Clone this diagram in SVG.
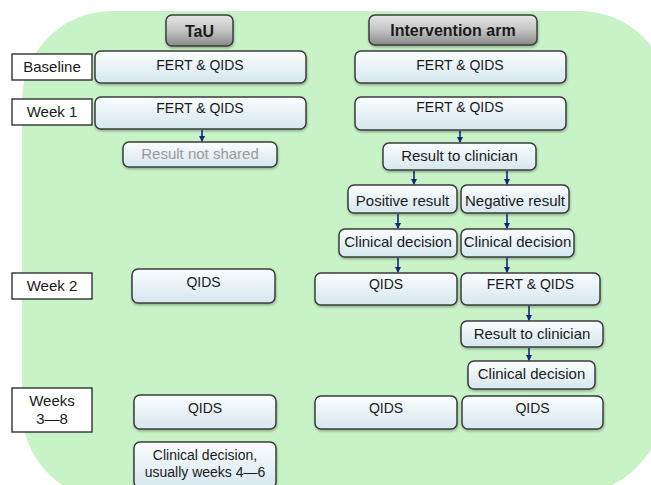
<svg xmlns="http://www.w3.org/2000/svg" width="651" height="485" viewBox="0 0 651 485">
<style>
.box{fill:url(#bg);stroke:#3c3c3c;stroke-width:1.5;filter:url(#sh)}
.hdr{fill:url(#hg);stroke:#3c3c3c;stroke-width:1.5;filter:url(#sh)}
.lbl{fill:#ffffff;stroke:#222;stroke-width:1.3}
text{font-family:"Liberation Sans",Arial,sans-serif;fill:#1a1a1a;text-anchor:middle}
.t14{font-size:14px}
.t15{font-size:15px}
.h{font-size:16px;font-weight:bold}
.g{fill:#9a9a9a}
.arr{stroke:#1a237e;stroke-width:1.6;fill:none;marker-end:url(#ah)}
</style>
<defs>
<linearGradient id="bg" x1="0" y1="0" x2="0" y2="1">
<stop offset="0" stop-color="#fbfdfe"/>
<stop offset="1" stop-color="#d5e7ee"/>
</linearGradient>
<linearGradient id="hg" x1="0" y1="0" x2="0" y2="1">
<stop offset="0" stop-color="#e6e6e6"/>
<stop offset="0.5" stop-color="#c4c4c4"/>
<stop offset="1" stop-color="#888888"/>
</linearGradient>
<filter id="sh" x="-10%" y="-20%" width="120%" height="150%">
<feDropShadow dx="0.5" dy="1.5" stdDeviation="1" flood-color="#000" flood-opacity="0.3"/>
</filter>
<marker id="ah" markerWidth="6" markerHeight="6" refX="5" refY="3" orient="auto" markerUnits="userSpaceOnUse">
<path d="M0,0 L6,3 L0,6 Z" fill="#1a237e"/>
</marker>
</defs>
<path d="M112 11 H580 A90 90 0 0 1 670 101 V382 A90 110 0 0 1 580 492 L112 500 A90 90 0 0 1 22 410 V101 A90 90 0 0 1 112 11 Z" fill="#c7f3c7"/>

<g id="hdr-tau"><rect class="hdr" x="166" y="15" width="67" height="31" rx="6"/><text class="h" x="199.5" y="37">TaU</text></g>
<g id="hdr-int"><rect class="hdr" x="369" y="15" width="168" height="30" rx="6"/><text class="h" x="453" y="36">Intervention arm</text></g>

<g id="lbl-baseline"><rect class="lbl" x="12" y="54" width="80" height="26"/><text class="t15" x="52" y="72">Baseline</text></g>
<g id="lbl-week1"><rect class="lbl" x="12" y="99" width="80" height="26"/><text class="t15" x="52" y="117">Week 1</text></g>
<g id="lbl-week2"><rect class="lbl" x="12" y="273" width="80" height="26"/><text class="t15" x="52" y="291">Week 2</text></g>
<g id="lbl-weeks38"><rect class="lbl" x="12" y="388" width="80" height="44"/><text class="t15" x="52" y="406">Weeks</text><text class="t15" x="52" y="424">3—8</text></g>

<g id="tau-baseline"><rect class="box" x="95" y="51" width="211" height="32" rx="6"/><text class="t14" x="200" y="70">FERT &amp; QIDS</text></g>
<g id="tau-week1"><rect class="box" x="95" y="97" width="211" height="32" rx="6"/><text class="t14" x="200" y="113">FERT &amp; QIDS</text></g>
<g id="tau-notshared"><rect class="box" x="123" y="142" width="154" height="25" rx="6"/><text class="t15 g" x="200" y="159">Result not shared</text></g>
<g id="tau-week2"><rect class="box" x="132" y="269" width="143" height="34" rx="6"/><text class="t14" x="203.5" y="287">QIDS</text></g>
<g id="tau-weeks38"><rect class="box" x="134" y="395" width="142" height="34" rx="6"/><text class="t14" x="205" y="413">QIDS</text></g>
<g id="tau-decision"><rect class="box" x="134" y="442" width="142" height="46" rx="6"/><text class="t14" x="205" y="460">Clinical decision,</text><text class="t14" x="205" y="477">usually weeks 4—6</text></g>

<g id="int-baseline"><rect class="box" x="355" y="51" width="211" height="32" rx="6"/><text class="t14" x="460" y="70">FERT &amp; QIDS</text></g>
<g id="int-week1"><rect class="box" x="355" y="97" width="211" height="33" rx="6"/><text class="t14" x="460" y="112">FERT &amp; QIDS</text></g>
<g id="int-result1"><rect class="box" x="383" y="143" width="153" height="27" rx="6"/><text class="t15" x="459.5" y="161">Result to clinician</text></g>
<g id="int-positive"><rect class="box" x="348" y="185" width="109" height="28" rx="6"/><text class="t15" x="402.5" y="206">Positive result</text></g>
<g id="int-negative"><rect class="box" x="461" y="185" width="108" height="28" rx="6"/><text class="t15" x="515" y="206">Negative result</text></g>
<g id="int-decision-pos"><rect class="box" x="339" y="229" width="118" height="28" rx="6"/><text class="t15" x="398" y="247">Clinical decision</text></g>
<g id="int-decision-neg"><rect class="box" x="461" y="229" width="113" height="28" rx="6"/><text class="t15" x="517.5" y="247">Clinical decision</text></g>
<g id="int-week2-qids"><rect class="box" x="315" y="273" width="142" height="32" rx="6"/><text class="t14" x="386" y="289">QIDS</text></g>
<g id="int-week2-fert"><rect class="box" x="461" y="273" width="139" height="32" rx="6"/><text class="t14" x="530.5" y="289">FERT &amp; QIDS</text></g>
<g id="int-result2"><rect class="box" x="461" y="321" width="142" height="26" rx="6"/><text class="t15" x="532" y="339">Result to clinician</text></g>
<g id="int-decision2"><rect class="box" x="468" y="361" width="127" height="28" rx="6"/><text class="t15" x="531.5" y="379">Clinical decision</text></g>
<g id="int-weeks38-left"><rect class="box" x="315" y="396" width="142" height="33" rx="6"/><text class="t14" x="386" y="413">QIDS</text></g>
<g id="int-weeks38-right"><rect class="box" x="462" y="396" width="141" height="33" rx="6"/><text class="t14" x="532.5" y="413">QIDS</text></g>

<g id="connectors">
<line class="arr" x1="202" y1="130" x2="202" y2="141"/>
<line class="arr" x1="460" y1="131" x2="460" y2="142"/>
<line class="arr" x1="414" y1="171" x2="414" y2="184"/>
<line class="arr" x1="507" y1="171" x2="507" y2="184"/>
<line class="arr" x1="398" y1="214" x2="398" y2="228"/>
<line class="arr" x1="507" y1="214" x2="507" y2="228"/>
<line class="arr" x1="398" y1="258" x2="398" y2="272"/>
<line class="arr" x1="507" y1="258" x2="507" y2="272"/>
<line class="arr" x1="529" y1="306" x2="529" y2="320"/>
<line class="arr" x1="529" y1="348" x2="529" y2="360"/>
</g>
</svg>
